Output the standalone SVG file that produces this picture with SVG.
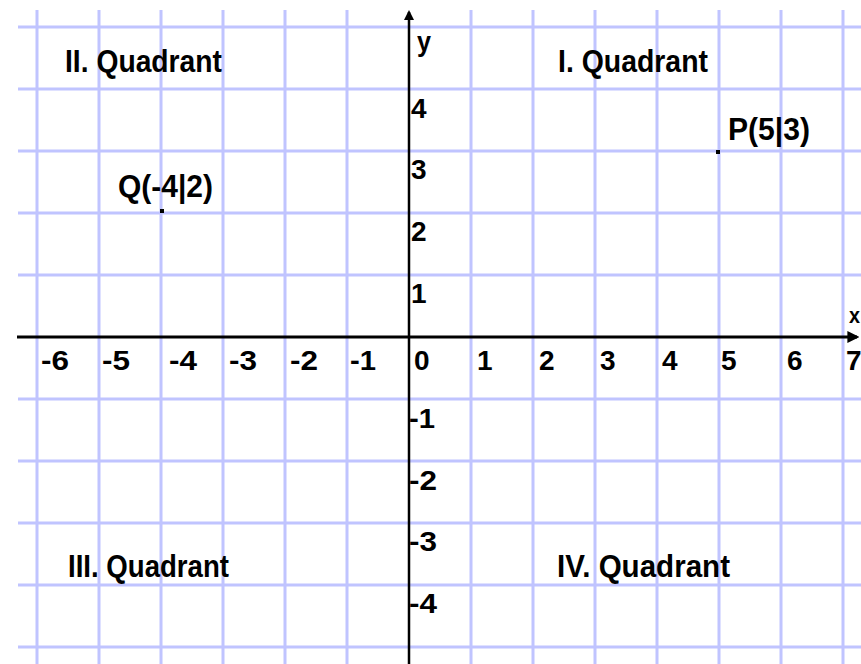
<svg xmlns="http://www.w3.org/2000/svg" width="861" height="664" viewBox="0 0 861 664">
<style>
.g{stroke:#c0c4ff;stroke-width:3;fill:none}
.ax{stroke:#000;fill:none}
.t{font-family:"Liberation Sans",Arial,sans-serif;font-weight:bold;fill:#000}
.n{font-size:28px}
.q{font-size:32px}
</style>
<defs>
<marker id="ah" viewBox="0 0 10 10" refX="8" refY="5" markerWidth="4" markerHeight="4" orient="auto">
<path d="M0,0 L10,5 L0,10 z" fill="#000"/>
</marker>
</defs>
<rect width="861" height="664" fill="#fff"/>
<g id="grid">
<path class="g" d="M37,10V664M99,10V664M161,10V664M223,10V664M285,10V664M347,10V664M471,10V664M533,10V664M595,10V664M657,10V664M719,10V664M781,10V664M843,10V664"/>
<path class="g" d="M18,27H861M18,89H861M18,151H861M18,213H861M18,275H861M18,399H861M18,461H861M18,523H861M18,585H861M18,647H861"/>
</g>
<g id="connectors">
<line id="x-axis" class="ax" x1="17" y1="337" x2="857" y2="337" stroke-width="3" marker-end="url(#ah)"/>
<line id="y-axis" class="ax" x1="409" y1="664" x2="409" y2="12" stroke-width="2.5" marker-end="url(#ah)"/>
</g>
<g id="axis-labels" class="t">
<text x="417" y="51" class="n" textLength="14" lengthAdjust="spacingAndGlyphs">y</text>
<text x="849" y="323" font-size="22" textLength="11" lengthAdjust="spacingAndGlyphs">x</text>
</g>
<g id="x-ticks" class="t n">
<text x="41" y="370" textLength="28" lengthAdjust="spacingAndGlyphs">-6</text>
<text x="102" y="370" textLength="28" lengthAdjust="spacingAndGlyphs">-5</text>
<text x="169" y="370" textLength="28" lengthAdjust="spacingAndGlyphs">-4</text>
<text x="229" y="370" textLength="28" lengthAdjust="spacingAndGlyphs">-3</text>
<text x="290" y="370" textLength="28" lengthAdjust="spacingAndGlyphs">-2</text>
<text x="350" y="370" textLength="26" lengthAdjust="spacingAndGlyphs">-1</text>
<text x="414" y="370">0</text>
<text x="477" y="370">1</text>
<text x="539" y="370">2</text>
<text x="600" y="370">3</text>
<text x="662" y="370">4</text>
<text x="721" y="370">5</text>
<text x="787" y="370">6</text>
<text x="846" y="370">7</text>
</g>
<g id="y-ticks" class="t n">
<text x="411" y="118">4</text>
<text x="411" y="179">3</text>
<text x="411" y="241">2</text>
<text x="411" y="303">1</text>
<text x="409" y="428" textLength="26" lengthAdjust="spacingAndGlyphs">-1</text>
<text x="409" y="490" textLength="28" lengthAdjust="spacingAndGlyphs">-2</text>
<text x="409" y="551" textLength="28" lengthAdjust="spacingAndGlyphs">-3</text>
<text x="409" y="613" textLength="28" lengthAdjust="spacingAndGlyphs">-4</text>
</g>
<g id="quadrant-2" class="t q"><text x="65" y="72" textLength="157" lengthAdjust="spacingAndGlyphs">II. Quadrant</text></g>
<g id="quadrant-1" class="t q"><text x="558" y="72" textLength="150" lengthAdjust="spacingAndGlyphs">I. Quadrant</text></g>
<g id="quadrant-3" class="t q"><text x="68" y="577" textLength="161" lengthAdjust="spacingAndGlyphs">III. Quadrant</text></g>
<g id="quadrant-4" class="t q"><text x="557" y="577" textLength="173" lengthAdjust="spacingAndGlyphs">IV. Quadrant</text></g>
<g id="point-Q">
<rect x="160" y="209" width="4" height="4" fill="#000"/>
<text class="t q" x="118" y="197" textLength="95" lengthAdjust="spacingAndGlyphs">Q(-4|2)</text>
</g>
<g id="point-P">
<rect x="716" y="150" width="4" height="4" fill="#000"/>
<text class="t q" x="728" y="140" textLength="82" lengthAdjust="spacingAndGlyphs">P(5|3)</text>
</g>
</svg>
